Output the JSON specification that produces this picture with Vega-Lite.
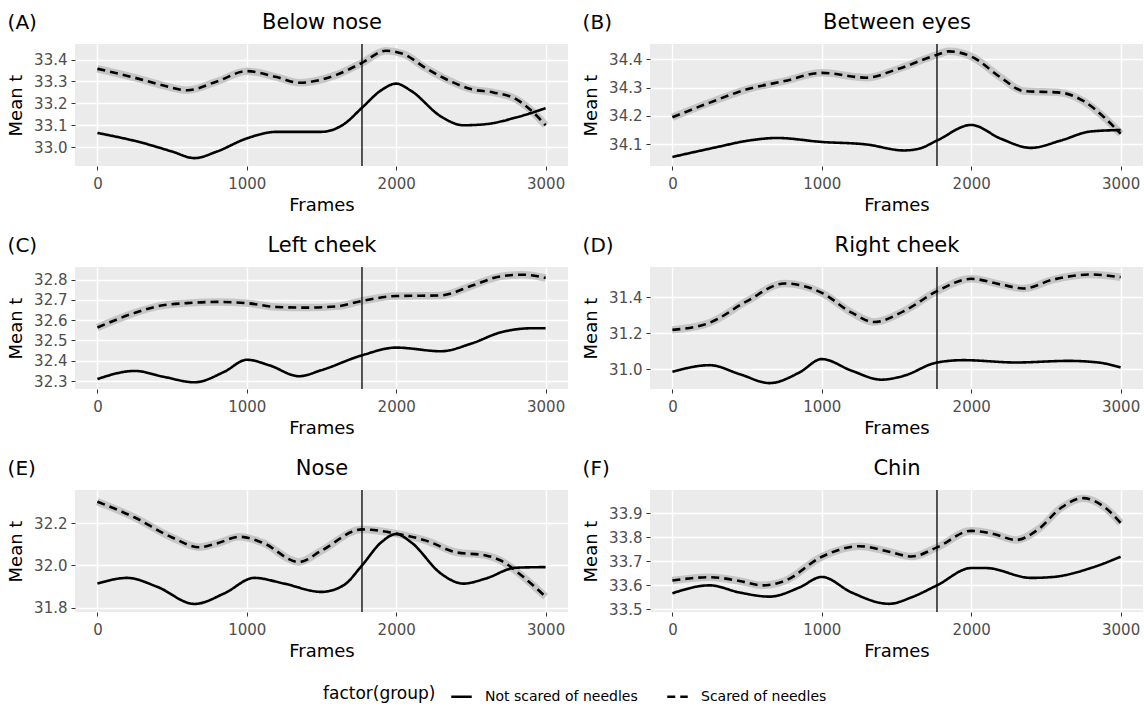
{
"$schema": "https://vega.github.io/schema/vega-lite/v6.json",
"padding": {"left": 7, "top": 11, "right": 0, "bottom": 0},
"config": {
  "font": "DejaVu Sans",
  "view": {"fill": "#EBEBEB", "stroke": null},
  "axis": {"domain": false, "tickColor": "#333333", "tickSize": 4, "labelColor": "#4D4D4D", "labelFontSize": 15, "labelPadding": 4, "titleFontSize": 18, "titleFontWeight": "normal", "titleColor": "#000000", "gridColor": "#FFFFFF", "gridOpacity": 1},
  "axisX": {"labelPadding": 6, "titlePadding": 5},
  "axisY": {"titlePadding": 8},
  "title": {"fontSize": 20, "fontWeight": "normal", "color": "#000000"},
  "legend": {"orient": "bottom", "offset": 25, "layout": {"bottom": {"anchor": "middle"}}, "direction": "horizontal", "titleOrient": "left", "titlePadding": 14, "titleFontSize": 17, "titleFontWeight": "normal", "titleColor": "#000000", "labelFontSize": 14, "labelColor": "#000000", "labelOffset": 12, "symbolType": "stroke", "symbolStrokeWidth": 2.5, "symbolSize": 420, "symbolStrokeColor": "#000000", "columnPadding": 24}
},
"datasets": {
"smooth": [
{"panel":"A","group":"Not scared of needles","frame":0,"t":33.065},{"panel":"A","group":"Not scared of needles","frame":300,"t":33.02},{"panel":"A","group":"Not scared of needles","frame":500,"t":32.98},{"panel":"A","group":"Not scared of needles","frame":650,"t":32.95},{"panel":"A","group":"Not scared of needles","frame":800,"t":32.98},{"panel":"A","group":"Not scared of needles","frame":1000,"t":33.04},{"panel":"A","group":"Not scared of needles","frame":1200,"t":33.07},{"panel":"A","group":"Not scared of needles","frame":1500,"t":33.07},{"panel":"A","group":"Not scared of needles","frame":1650,"t":33.105},{"panel":"A","group":"Not scared of needles","frame":1771,"t":33.18},{"panel":"A","group":"Not scared of needles","frame":1900,"t":33.26},{"panel":"A","group":"Not scared of needles","frame":2000,"t":33.29},{"panel":"A","group":"Not scared of needles","frame":2100,"t":33.257},{"panel":"A","group":"Not scared of needles","frame":2300,"t":33.14},{"panel":"A","group":"Not scared of needles","frame":2450,"t":33.1},{"panel":"A","group":"Not scared of needles","frame":2600,"t":33.105},{"panel":"A","group":"Not scared of needles","frame":2800,"t":33.135},{"panel":"A","group":"Not scared of needles","frame":3000,"t":33.178},
{"panel":"A","group":"Scared of needles","frame":0,"t":33.358},{"panel":"A","group":"Scared of needles","frame":250,"t":33.317},{"panel":"A","group":"Scared of needles","frame":450,"t":33.28},{"panel":"A","group":"Scared of needles","frame":600,"t":33.26},{"panel":"A","group":"Scared of needles","frame":800,"t":33.3},{"panel":"A","group":"Scared of needles","frame":1000,"t":33.347},{"panel":"A","group":"Scared of needles","frame":1200,"t":33.32},{"panel":"A","group":"Scared of needles","frame":1350,"t":33.294},{"panel":"A","group":"Scared of needles","frame":1600,"t":33.33},{"panel":"A","group":"Scared of needles","frame":1771,"t":33.385},{"panel":"A","group":"Scared of needles","frame":1930,"t":33.44},{"panel":"A","group":"Scared of needles","frame":2050,"t":33.425},{"panel":"A","group":"Scared of needles","frame":2200,"t":33.36},{"panel":"A","group":"Scared of needles","frame":2400,"t":33.29},{"panel":"A","group":"Scared of needles","frame":2500,"t":33.265},{"panel":"A","group":"Scared of needles","frame":2650,"t":33.25},{"panel":"A","group":"Scared of needles","frame":2800,"t":33.22},{"panel":"A","group":"Scared of needles","frame":2900,"t":33.17},{"panel":"A","group":"Scared of needles","frame":3000,"t":33.1},
{"panel":"B","group":"Not scared of needles","frame":0,"t":34.055},{"panel":"B","group":"Not scared of needles","frame":300,"t":34.09},{"panel":"B","group":"Not scared of needles","frame":500,"t":34.112},{"panel":"B","group":"Not scared of needles","frame":700,"t":34.122},{"panel":"B","group":"Not scared of needles","frame":1000,"t":34.108},{"panel":"B","group":"Not scared of needles","frame":1300,"t":34.099},{"panel":"B","group":"Not scared of needles","frame":1550,"t":34.078},{"panel":"B","group":"Not scared of needles","frame":1650,"t":34.084},{"panel":"B","group":"Not scared of needles","frame":1771,"t":34.113},{"panel":"B","group":"Not scared of needles","frame":2000,"t":34.168},{"panel":"B","group":"Not scared of needles","frame":2200,"t":34.119},{"panel":"B","group":"Not scared of needles","frame":2400,"t":34.087},{"panel":"B","group":"Not scared of needles","frame":2600,"t":34.113},{"panel":"B","group":"Not scared of needles","frame":2800,"t":34.145},{"panel":"B","group":"Not scared of needles","frame":3000,"t":34.15},
{"panel":"B","group":"Scared of needles","frame":0,"t":34.195},{"panel":"B","group":"Scared of needles","frame":250,"t":34.247},{"panel":"B","group":"Scared of needles","frame":500,"t":34.294},{"panel":"B","group":"Scared of needles","frame":750,"t":34.323},{"panel":"B","group":"Scared of needles","frame":1000,"t":34.352},{"panel":"B","group":"Scared of needles","frame":1300,"t":34.335},{"panel":"B","group":"Scared of needles","frame":1500,"t":34.364},{"panel":"B","group":"Scared of needles","frame":1771,"t":34.416},{"panel":"B","group":"Scared of needles","frame":1850,"t":34.428},{"panel":"B","group":"Scared of needles","frame":2000,"t":34.41},{"panel":"B","group":"Scared of needles","frame":2200,"t":34.335},{"panel":"B","group":"Scared of needles","frame":2350,"t":34.288},{"panel":"B","group":"Scared of needles","frame":2600,"t":34.282},{"panel":"B","group":"Scared of needles","frame":2750,"t":34.253},{"panel":"B","group":"Scared of needles","frame":2900,"t":34.19},{"panel":"B","group":"Scared of needles","frame":3000,"t":34.137},
{"panel":"C","group":"Not scared of needles","frame":0,"t":32.31},{"panel":"C","group":"Not scared of needles","frame":250,"t":32.35},{"panel":"C","group":"Not scared of needles","frame":450,"t":32.32},{"panel":"C","group":"Not scared of needles","frame":650,"t":32.294},{"panel":"C","group":"Not scared of needles","frame":850,"t":32.346},{"panel":"C","group":"Not scared of needles","frame":1000,"t":32.405},{"panel":"C","group":"Not scared of needles","frame":1150,"t":32.378},{"panel":"C","group":"Not scared of needles","frame":1350,"t":32.324},{"panel":"C","group":"Not scared of needles","frame":1500,"t":32.354},{"panel":"C","group":"Not scared of needles","frame":1771,"t":32.427},{"panel":"C","group":"Not scared of needles","frame":2000,"t":32.465},{"panel":"C","group":"Not scared of needles","frame":2300,"t":32.447},{"panel":"C","group":"Not scared of needles","frame":2500,"t":32.484},{"panel":"C","group":"Not scared of needles","frame":2700,"t":32.54},{"panel":"C","group":"Not scared of needles","frame":2900,"t":32.56},{"panel":"C","group":"Not scared of needles","frame":3000,"t":32.56},
{"panel":"C","group":"Scared of needles","frame":0,"t":32.564},{"panel":"C","group":"Scared of needles","frame":250,"t":32.636},{"panel":"C","group":"Scared of needles","frame":400,"t":32.668},{"panel":"C","group":"Scared of needles","frame":600,"t":32.684},{"panel":"C","group":"Scared of needles","frame":800,"t":32.69},{"panel":"C","group":"Scared of needles","frame":1000,"t":32.684},{"panel":"C","group":"Scared of needles","frame":1200,"t":32.665},{"panel":"C","group":"Scared of needles","frame":1400,"t":32.662},{"panel":"C","group":"Scared of needles","frame":1600,"t":32.668},{"panel":"C","group":"Scared of needles","frame":1771,"t":32.695},{"panel":"C","group":"Scared of needles","frame":2000,"t":32.719},{"panel":"C","group":"Scared of needles","frame":2300,"t":32.722},{"panel":"C","group":"Scared of needles","frame":2500,"t":32.768},{"panel":"C","group":"Scared of needles","frame":2700,"t":32.816},{"panel":"C","group":"Scared of needles","frame":2850,"t":32.824},{"panel":"C","group":"Scared of needles","frame":3000,"t":32.808},
{"panel":"D","group":"Not scared of needles","frame":0,"t":30.985},{"panel":"D","group":"Not scared of needles","frame":250,"t":31.022},{"panel":"D","group":"Not scared of needles","frame":450,"t":30.972},{"panel":"D","group":"Not scared of needles","frame":650,"t":30.922},{"panel":"D","group":"Not scared of needles","frame":850,"t":30.981},{"panel":"D","group":"Not scared of needles","frame":1000,"t":31.056},{"panel":"D","group":"Not scared of needles","frame":1200,"t":30.991},{"panel":"D","group":"Not scared of needles","frame":1400,"t":30.941},{"panel":"D","group":"Not scared of needles","frame":1550,"t":30.963},{"panel":"D","group":"Not scared of needles","frame":1771,"t":31.037},{"panel":"D","group":"Not scared of needles","frame":1950,"t":31.05},{"panel":"D","group":"Not scared of needles","frame":2300,"t":31.037},{"panel":"D","group":"Not scared of needles","frame":2650,"t":31.046},{"panel":"D","group":"Not scared of needles","frame":2850,"t":31.037},{"panel":"D","group":"Not scared of needles","frame":3000,"t":31.009},
{"panel":"D","group":"Scared of needles","frame":0,"t":31.219},{"panel":"D","group":"Scared of needles","frame":250,"t":31.259},{"panel":"D","group":"Scared of needles","frame":500,"t":31.38},{"panel":"D","group":"Scared of needles","frame":750,"t":31.478},{"panel":"D","group":"Scared of needles","frame":1000,"t":31.426},{"panel":"D","group":"Scared of needles","frame":1200,"t":31.315},{"panel":"D","group":"Scared of needles","frame":1350,"t":31.263},{"panel":"D","group":"Scared of needles","frame":1550,"t":31.324},{"panel":"D","group":"Scared of needles","frame":1771,"t":31.435},{"panel":"D","group":"Scared of needles","frame":2000,"t":31.504},{"panel":"D","group":"Scared of needles","frame":2200,"t":31.472},{"panel":"D","group":"Scared of needles","frame":2350,"t":31.45},{"panel":"D","group":"Scared of needles","frame":2550,"t":31.5},{"panel":"D","group":"Scared of needles","frame":2800,"t":31.528},{"panel":"D","group":"Scared of needles","frame":3000,"t":31.513},
{"panel":"E","group":"Not scared of needles","frame":0,"t":31.914},{"panel":"E","group":"Not scared of needles","frame":200,"t":31.941},{"panel":"E","group":"Not scared of needles","frame":400,"t":31.899},{"panel":"E","group":"Not scared of needles","frame":650,"t":31.818},{"panel":"E","group":"Not scared of needles","frame":850,"t":31.868},{"panel":"E","group":"Not scared of needles","frame":1050,"t":31.941},{"panel":"E","group":"Not scared of needles","frame":1250,"t":31.914},{"panel":"E","group":"Not scared of needles","frame":1500,"t":31.875},{"panel":"E","group":"Not scared of needles","frame":1650,"t":31.907},{"panel":"E","group":"Not scared of needles","frame":1771,"t":32.0},{"panel":"E","group":"Not scared of needles","frame":1900,"t":32.109},{"panel":"E","group":"Not scared of needles","frame":2000,"t":32.148},{"panel":"E","group":"Not scared of needles","frame":2100,"t":32.109},{"panel":"E","group":"Not scared of needles","frame":2300,"t":31.961},{"panel":"E","group":"Not scared of needles","frame":2450,"t":31.914},{"panel":"E","group":"Not scared of needles","frame":2600,"t":31.938},{"panel":"E","group":"Not scared of needles","frame":2800,"t":31.989},{"panel":"E","group":"Not scared of needles","frame":3000,"t":31.992},
{"panel":"E","group":"Scared of needles","frame":0,"t":32.301},{"panel":"E","group":"Scared of needles","frame":250,"t":32.226},{"panel":"E","group":"Scared of needles","frame":500,"t":32.132},{"panel":"E","group":"Scared of needles","frame":680,"t":32.086},{"panel":"E","group":"Scared of needles","frame":800,"t":32.104},{"panel":"E","group":"Scared of needles","frame":950,"t":32.135},{"panel":"E","group":"Scared of needles","frame":1100,"t":32.109},{"panel":"E","group":"Scared of needles","frame":1350,"t":32.016},{"panel":"E","group":"Scared of needles","frame":1500,"t":32.07},{"panel":"E","group":"Scared of needles","frame":1771,"t":32.17},{"panel":"E","group":"Scared of needles","frame":2000,"t":32.15},{"panel":"E","group":"Scared of needles","frame":2200,"t":32.117},{"panel":"E","group":"Scared of needles","frame":2400,"t":32.062},{"panel":"E","group":"Scared of needles","frame":2600,"t":32.047},{"panel":"E","group":"Scared of needles","frame":2700,"t":32.023},{"panel":"E","group":"Scared of needles","frame":2850,"t":31.946},{"panel":"E","group":"Scared of needles","frame":3000,"t":31.852},
{"panel":"F","group":"Not scared of needles","frame":0,"t":33.567},{"panel":"F","group":"Not scared of needles","frame":250,"t":33.6},{"panel":"F","group":"Not scared of needles","frame":450,"t":33.57},{"panel":"F","group":"Not scared of needles","frame":650,"t":33.553},{"panel":"F","group":"Not scared of needles","frame":850,"t":33.591},{"panel":"F","group":"Not scared of needles","frame":1000,"t":33.635},{"panel":"F","group":"Not scared of needles","frame":1200,"t":33.57},{"panel":"F","group":"Not scared of needles","frame":1450,"t":33.523},{"panel":"F","group":"Not scared of needles","frame":1600,"t":33.55},{"panel":"F","group":"Not scared of needles","frame":1771,"t":33.6},{"panel":"F","group":"Not scared of needles","frame":2000,"t":33.672},{"panel":"F","group":"Not scared of needles","frame":2100,"t":33.672},{"panel":"F","group":"Not scared of needles","frame":2400,"t":33.631},{"panel":"F","group":"Not scared of needles","frame":2550,"t":33.635},{"panel":"F","group":"Not scared of needles","frame":2800,"t":33.672},{"panel":"F","group":"Not scared of needles","frame":3000,"t":33.719},
{"panel":"F","group":"Scared of needles","frame":0,"t":33.62},{"panel":"F","group":"Scared of needles","frame":250,"t":33.634},{"panel":"F","group":"Scared of needles","frame":450,"t":33.618},{"panel":"F","group":"Scared of needles","frame":600,"t":33.6},{"panel":"F","group":"Scared of needles","frame":750,"t":33.618},{"panel":"F","group":"Scared of needles","frame":1000,"t":33.719},{"panel":"F","group":"Scared of needles","frame":1250,"t":33.763},{"panel":"F","group":"Scared of needles","frame":1450,"t":33.74},{"panel":"F","group":"Scared of needles","frame":1600,"t":33.72},{"panel":"F","group":"Scared of needles","frame":1771,"t":33.758},{"panel":"F","group":"Scared of needles","frame":2000,"t":33.827},{"panel":"F","group":"Scared of needles","frame":2150,"t":33.814},{"panel":"F","group":"Scared of needles","frame":2300,"t":33.789},{"panel":"F","group":"Scared of needles","frame":2450,"t":33.834},{"panel":"F","group":"Scared of needles","frame":2600,"t":33.922},{"panel":"F","group":"Scared of needles","frame":2750,"t":33.963},{"panel":"F","group":"Scared of needles","frame":2900,"t":33.922},{"panel":"F","group":"Scared of needles","frame":3000,"t":33.86}
]
},
"columns": 2,
"spacing": {"row": 20, "column": 14},
"concat": [
{"title": {"text": "(A)", "anchor": "start", "frame": "bounds", "fontSize": 20, "offset": -22},
 "width": 493, "height": 122,
 "resolve": {"axis": {"x": "independent", "y": "independent"}},
 "layer": [
  {"data": {"name": "smooth"}, "transform": [{"filter": "datum.panel === 'A' && datum.group === 'Scared of needles'"}],
   "mark": {"type": "line", "interpolate": "monotone", "color": "#C6C6C6", "strokeWidth": 7.5},
   "encoding": {
    "x": {"field": "frame", "type": "quantitative", "scale": {"domain": [-150, 3150], "nice": false, "zero": false}, "axis": {"title": "Frames", "values": [0, 1000, 2000, 3000], "format": "d", "gridWidth": 1.4}},
    "y": {"field": "t", "type": "quantitative", "scale": {"domain": [32.914, 33.471], "nice": false, "zero": false}, "axis": {"title": "Mean t", "values": [33.0, 33.1, 33.2, 33.3, 33.4], "format": ".1f", "gridWidth": 1.4}}}},
  {"data": {"name": "smooth"}, "transform": [{"filter": "datum.panel === 'A'"}],
   "mark": {"type": "line", "interpolate": "monotone", "color": "#000000", "strokeWidth": 2.6},
   "encoding": {
    "x": {"field": "frame", "type": "quantitative", "scale": {"domain": [-150, 3150], "nice": false, "zero": false}, "axis": {"orient": "top", "values": [500, 1500, 2500], "labels": false, "ticks": false, "gridWidth": 0.7, "title": "Below nose", "titleFontSize": 21, "titlePadding": 12}},
    "y": {"field": "t", "type": "quantitative", "scale": {"domain": [32.914, 33.471], "nice": false, "zero": false}, "axis": {"orient": "right", "values": [32.95, 33.05, 33.15, 33.25, 33.35, 33.45], "labels": false, "ticks": false, "title": null, "gridWidth": 0.7}},
    "strokeDash": {"field": "group", "type": "nominal", "title": "factor(group)", "scale": {"domain": ["Not scared of needles", "Scared of needles"], "range": [[1, 0], [8, 5]]}}}},
  {"data": {"values": [{"frame": 1771}]},
   "mark": {"type": "rule", "color": "#000000", "strokeWidth": 1.3},
   "encoding": {"x": {"field": "frame", "type": "quantitative", "axis": null}}}
 ]},
{"title": {"text": "(B)", "anchor": "start", "frame": "bounds", "fontSize": 20, "offset": -22},
 "width": 493, "height": 122,
 "resolve": {"axis": {"x": "independent", "y": "independent"}},
 "layer": [
  {"data": {"name": "smooth"}, "transform": [{"filter": "datum.panel === 'B' && datum.group === 'Scared of needles'"}],
   "mark": {"type": "line", "interpolate": "monotone", "color": "#C6C6C6", "strokeWidth": 7.5},
   "encoding": {
    "x": {"field": "frame", "type": "quantitative", "scale": {"domain": [-150, 3150], "nice": false, "zero": false}, "axis": {"title": "Frames", "values": [0, 1000, 2000, 3000], "format": "d", "gridWidth": 1.4}},
    "y": {"field": "t", "type": "quantitative", "scale": {"domain": [34.023, 34.454], "nice": false, "zero": false}, "axis": {"title": "Mean t", "values": [34.1, 34.2, 34.3, 34.4], "format": ".1f", "gridWidth": 1.4}}}},
  {"data": {"name": "smooth"}, "transform": [{"filter": "datum.panel === 'B'"}],
   "mark": {"type": "line", "interpolate": "monotone", "color": "#000000", "strokeWidth": 2.6},
   "encoding": {
    "x": {"field": "frame", "type": "quantitative", "scale": {"domain": [-150, 3150], "nice": false, "zero": false}, "axis": {"orient": "top", "values": [500, 1500, 2500], "labels": false, "ticks": false, "gridWidth": 0.7, "title": "Between eyes", "titleFontSize": 21, "titlePadding": 12}},
    "y": {"field": "t", "type": "quantitative", "scale": {"domain": [34.023, 34.454], "nice": false, "zero": false}, "axis": {"orient": "right", "values": [34.05, 34.15, 34.25, 34.35, 34.45], "labels": false, "ticks": false, "title": null, "gridWidth": 0.7}},
    "strokeDash": {"field": "group", "type": "nominal", "title": "factor(group)", "scale": {"domain": ["Not scared of needles", "Scared of needles"], "range": [[1, 0], [8, 5]]}}}},
  {"data": {"values": [{"frame": 1771}]},
   "mark": {"type": "rule", "color": "#000000", "strokeWidth": 1.3},
   "encoding": {"x": {"field": "frame", "type": "quantitative", "axis": null}}}
 ]},
{"title": {"text": "(C)", "anchor": "start", "frame": "bounds", "fontSize": 20, "offset": -22},
 "width": 493, "height": 122,
 "resolve": {"axis": {"x": "independent", "y": "independent"}},
 "layer": [
  {"data": {"name": "smooth"}, "transform": [{"filter": "datum.panel === 'C' && datum.group === 'Scared of needles'"}],
   "mark": {"type": "line", "interpolate": "monotone", "color": "#C6C6C6", "strokeWidth": 7.5},
   "encoding": {
    "x": {"field": "frame", "type": "quantitative", "scale": {"domain": [-150, 3150], "nice": false, "zero": false}, "axis": {"title": "Frames", "values": [0, 1000, 2000, 3000], "format": "d", "gridWidth": 1.4}},
    "y": {"field": "t", "type": "quantitative", "scale": {"domain": [32.261, 32.862], "nice": false, "zero": false}, "axis": {"title": "Mean t", "values": [32.3, 32.4, 32.5, 32.6, 32.7, 32.8], "format": ".1f", "gridWidth": 1.4}}}},
  {"data": {"name": "smooth"}, "transform": [{"filter": "datum.panel === 'C'"}],
   "mark": {"type": "line", "interpolate": "monotone", "color": "#000000", "strokeWidth": 2.6},
   "encoding": {
    "x": {"field": "frame", "type": "quantitative", "scale": {"domain": [-150, 3150], "nice": false, "zero": false}, "axis": {"orient": "top", "values": [500, 1500, 2500], "labels": false, "ticks": false, "gridWidth": 0.7, "title": "Left cheek", "titleFontSize": 21, "titlePadding": 12}},
    "y": {"field": "t", "type": "quantitative", "scale": {"domain": [32.261, 32.862], "nice": false, "zero": false}, "axis": {"orient": "right", "values": [32.35, 32.45, 32.55, 32.65, 32.75, 32.85], "labels": false, "ticks": false, "title": null, "gridWidth": 0.7}},
    "strokeDash": {"field": "group", "type": "nominal", "title": "factor(group)", "scale": {"domain": ["Not scared of needles", "Scared of needles"], "range": [[1, 0], [8, 5]]}}}},
  {"data": {"values": [{"frame": 1771}]},
   "mark": {"type": "rule", "color": "#000000", "strokeWidth": 1.3},
   "encoding": {"x": {"field": "frame", "type": "quantitative", "axis": null}}}
 ]},
{"title": {"text": "(D)", "anchor": "start", "frame": "bounds", "fontSize": 20, "offset": -22},
 "width": 493, "height": 122,
 "resolve": {"axis": {"x": "independent", "y": "independent"}},
 "layer": [
  {"data": {"name": "smooth"}, "transform": [{"filter": "datum.panel === 'D' && datum.group === 'Scared of needles'"}],
   "mark": {"type": "line", "interpolate": "monotone", "color": "#C6C6C6", "strokeWidth": 7.5},
   "encoding": {
    "x": {"field": "frame", "type": "quantitative", "scale": {"domain": [-150, 3150], "nice": false, "zero": false}, "axis": {"title": "Frames", "values": [0, 1000, 2000, 3000], "format": "d", "gridWidth": 1.4}},
    "y": {"field": "t", "type": "quantitative", "scale": {"domain": [30.889, 31.57], "nice": false, "zero": false}, "axis": {"title": "Mean t", "values": [31.0, 31.2, 31.4], "format": ".1f", "gridWidth": 1.4}}}},
  {"data": {"name": "smooth"}, "transform": [{"filter": "datum.panel === 'D'"}],
   "mark": {"type": "line", "interpolate": "monotone", "color": "#000000", "strokeWidth": 2.6},
   "encoding": {
    "x": {"field": "frame", "type": "quantitative", "scale": {"domain": [-150, 3150], "nice": false, "zero": false}, "axis": {"orient": "top", "values": [500, 1500, 2500], "labels": false, "ticks": false, "gridWidth": 0.7, "title": "Right cheek", "titleFontSize": 21, "titlePadding": 12}},
    "y": {"field": "t", "type": "quantitative", "scale": {"domain": [30.889, 31.57], "nice": false, "zero": false}, "axis": {"orient": "right", "values": [30.9, 31.1, 31.3, 31.5], "labels": false, "ticks": false, "title": null, "gridWidth": 0.7}},
    "strokeDash": {"field": "group", "type": "nominal", "title": "factor(group)", "scale": {"domain": ["Not scared of needles", "Scared of needles"], "range": [[1, 0], [8, 5]]}}}},
  {"data": {"values": [{"frame": 1771}]},
   "mark": {"type": "rule", "color": "#000000", "strokeWidth": 1.3},
   "encoding": {"x": {"field": "frame", "type": "quantitative", "axis": null}}}
 ]},
{"title": {"text": "(E)", "anchor": "start", "frame": "bounds", "fontSize": 20, "offset": -22},
 "width": 493, "height": 122,
 "resolve": {"axis": {"x": "independent", "y": "independent"}},
 "layer": [
  {"data": {"name": "smooth"}, "transform": [{"filter": "datum.panel === 'E' && datum.group === 'Scared of needles'"}],
   "mark": {"type": "line", "interpolate": "monotone", "color": "#C6C6C6", "strokeWidth": 7.5},
   "encoding": {
    "x": {"field": "frame", "type": "quantitative", "scale": {"domain": [-150, 3150], "nice": false, "zero": false}, "axis": {"title": "Frames", "values": [0, 1000, 2000, 3000], "format": "d", "gridWidth": 1.4}},
    "y": {"field": "t", "type": "quantitative", "scale": {"domain": [31.78, 32.356], "nice": false, "zero": false}, "axis": {"title": "Mean t", "values": [31.8, 32.0, 32.2], "format": ".1f", "gridWidth": 1.4}}}},
  {"data": {"name": "smooth"}, "transform": [{"filter": "datum.panel === 'E'"}],
   "mark": {"type": "line", "interpolate": "monotone", "color": "#000000", "strokeWidth": 2.6},
   "encoding": {
    "x": {"field": "frame", "type": "quantitative", "scale": {"domain": [-150, 3150], "nice": false, "zero": false}, "axis": {"orient": "top", "values": [500, 1500, 2500], "labels": false, "ticks": false, "gridWidth": 0.7, "title": "Nose", "titleFontSize": 21, "titlePadding": 12}},
    "y": {"field": "t", "type": "quantitative", "scale": {"domain": [31.78, 32.356], "nice": false, "zero": false}, "axis": {"orient": "right", "values": [31.9, 32.1, 32.3], "labels": false, "ticks": false, "title": null, "gridWidth": 0.7}},
    "strokeDash": {"field": "group", "type": "nominal", "title": "factor(group)", "scale": {"domain": ["Not scared of needles", "Scared of needles"], "range": [[1, 0], [8, 5]]}}}},
  {"data": {"values": [{"frame": 1771}]},
   "mark": {"type": "rule", "color": "#000000", "strokeWidth": 1.3},
   "encoding": {"x": {"field": "frame", "type": "quantitative", "axis": null}}}
 ]},
{"title": {"text": "(F)", "anchor": "start", "frame": "bounds", "fontSize": 20, "offset": -22},
 "width": 493, "height": 122,
 "resolve": {"axis": {"x": "independent", "y": "independent"}},
 "layer": [
  {"data": {"name": "smooth"}, "transform": [{"filter": "datum.panel === 'F' && datum.group === 'Scared of needles'"}],
   "mark": {"type": "line", "interpolate": "monotone", "color": "#C6C6C6", "strokeWidth": 7.5},
   "encoding": {
    "x": {"field": "frame", "type": "quantitative", "scale": {"domain": [-150, 3150], "nice": false, "zero": false}, "axis": {"title": "Frames", "values": [0, 1000, 2000, 3000], "format": "d", "gridWidth": 1.4}},
    "y": {"field": "t", "type": "quantitative", "scale": {"domain": [33.489, 33.997], "nice": false, "zero": false}, "axis": {"title": "Mean t", "values": [33.5, 33.6, 33.7, 33.8, 33.9], "format": ".1f", "gridWidth": 1.4}}}},
  {"data": {"name": "smooth"}, "transform": [{"filter": "datum.panel === 'F'"}],
   "mark": {"type": "line", "interpolate": "monotone", "color": "#000000", "strokeWidth": 2.6},
   "encoding": {
    "x": {"field": "frame", "type": "quantitative", "scale": {"domain": [-150, 3150], "nice": false, "zero": false}, "axis": {"orient": "top", "values": [500, 1500, 2500], "labels": false, "ticks": false, "gridWidth": 0.7, "title": "Chin", "titleFontSize": 21, "titlePadding": 12}},
    "y": {"field": "t", "type": "quantitative", "scale": {"domain": [33.489, 33.997], "nice": false, "zero": false}, "axis": {"orient": "right", "values": [33.55, 33.65, 33.75, 33.85, 33.95], "labels": false, "ticks": false, "title": null, "gridWidth": 0.7}},
    "strokeDash": {"field": "group", "type": "nominal", "title": "factor(group)", "scale": {"domain": ["Not scared of needles", "Scared of needles"], "range": [[1, 0], [8, 5]]}}}},
  {"data": {"values": [{"frame": 1771}]},
   "mark": {"type": "rule", "color": "#000000", "strokeWidth": 1.3},
   "encoding": {"x": {"field": "frame", "type": "quantitative", "axis": null}}}
 ]}
]
}
